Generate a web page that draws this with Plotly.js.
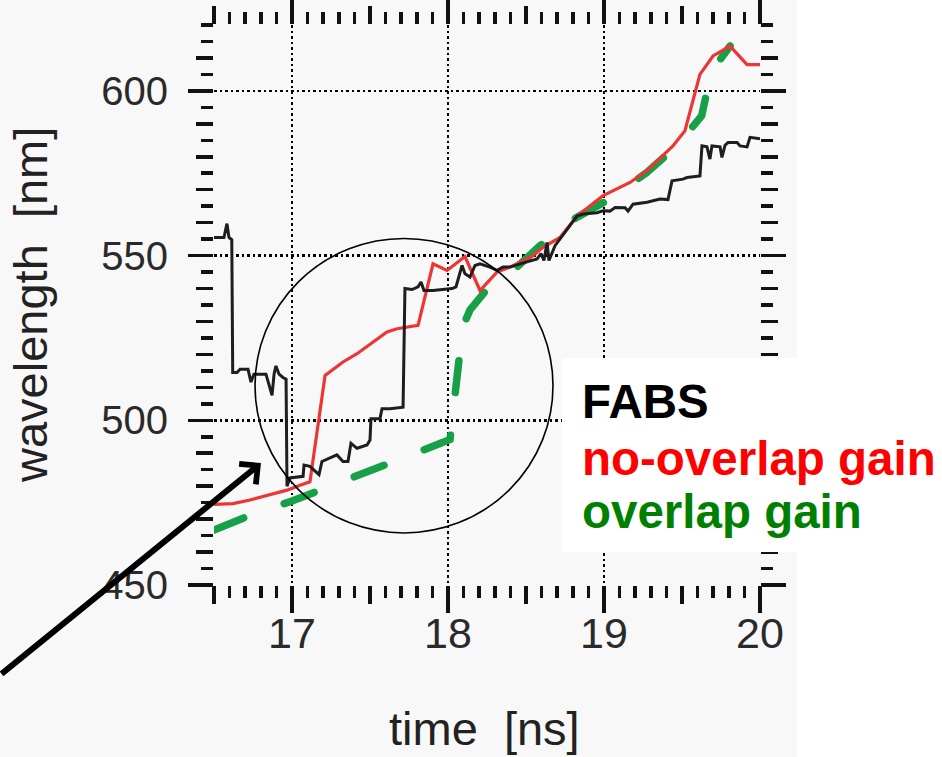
<!DOCTYPE html>
<html>
<head>
<meta charset="utf-8">
<script src="https://cdn.plot.ly/plotly-3.0.1.min.js"></script>
<style>html,body{margin:0;padding:0;background:#fff;}#chart{width:942px;height:757px;}</style>
</head>
<body>
<div id="chart"></div>
<script>
// ---- data (time in ns, wavelength in nm) ----
var fabsTime = [16.5,16.564,16.583,16.596,16.614,16.62,16.647,16.667,16.718,16.737,16.756,16.808,16.833,16.872,16.885,16.897,16.917,16.942,16.962,16.968,16.987,17.071,17.077,17.115,17.147,17.173,17.192,17.244,17.288,17.327,17.359,17.378,17.417,17.481,17.5,17.506,17.564,17.577,17.628,17.712,17.724,17.769,17.808,17.827,17.846,17.904,17.994,18.026,18.051,18.077,18.09,18.109,18.141,18.173,18.205,18.269,18.314,18.353,18.397,18.462,18.526,18.571,18.596,18.615,18.635,18.647,18.686,18.75,18.827,18.865,18.955,18.994,19.038,19.071,19.135,19.154,19.186,19.276,19.359,19.41,19.436,19.506,19.532,19.615,19.628,19.66,19.679,19.692,19.744,19.756,19.776,19.795,19.853,19.872,19.917,19.936,20.0];
var fabsWl   = [555.5,555.5,559.7,555.5,554.8,514.5,514.5,515.5,515.5,511.6,514,514,514,507.6,514,516.5,514,513,512.5,480,482.5,483,486.4,486,484.5,483.5,487.5,488.5,489.5,487.5,487.5,493,491.5,492.5,494,500.5,500.5,503.5,503.5,504,540,539.7,540.5,542,539.4,539.4,539.7,540,540.5,545,547,544.5,543.5,547,547.5,546.5,545.5,546.5,546.5,547.5,548.5,549,550.6,548.5,554,548.5,553,557,562,562.6,563,563.6,563.5,564.6,564.5,563.5,565.6,566.2,567.2,567,572.7,573.2,573.7,574.2,583.3,583,579.3,583.3,583,579.8,583.5,584.3,584.3,583.3,583,585.9,585.5];

var noOverlapTime = [16.5,16.622,16.731,16.859,16.968,17.051,17.115,17.212,17.327,17.417,17.545,17.609,17.673,17.808,17.904,17.994,18.109,18.205,18.314,18.397,18.545,18.609,18.718,18.827,18.994,19.167,19.276,19.442,19.519,19.571,19.615,19.699,19.808,19.917,20.0];
var noOverlapWl   = [474.5,474.7,475.8,477.3,478.8,480.3,481.3,513.6,517.7,520.2,524.7,526.8,527.8,528.8,547.5,545.5,549.7,539.4,545,546.5,550,552.5,555.5,562,568.2,572.2,575.8,583.3,587.9,597,605,610.6,613.6,608,608];

var overlapTime = [16.5,16.75,17.0,17.25,17.5,17.75,17.968,18.013,18.034,18.066,18.094,18.141,18.216,18.269,18.43,18.59,18.825,19.038,19.274,19.466,19.626,19.654,19.679,19.744,19.808];
var overlapWl   = [466.7,471.5,475.5,480.0,484.3,488.8,493.3,494.2,504,515.7,528.3,533.5,537.9,540.9,546,553,561.6,567.2,575.2,583.3,592.4,598,604,609.5,613.6];

var seriesNames = ['FABS','no-overlap gain','overlap gain'];
var xTicks = [17,18,19,20];
var xHalfTicks = [16.5,17.5,18.5,19.5];
var yTicks = [450,500,550,600];
var yTenTicks = [460,470,480,490,510,520,530,540,560,570,580,590,610];

// ---- pixel geometry helpers (layout only) ----
var W = 942, H = 757, L = 214, R = 182, T = 25, B = 172;
var pw = W - L - R, ph = H - T - B;
function px(x){ return (x - L) / pw; }
function py(y){ return (H - B - y) / ph; }

var tickCol = '#111';
var font = 'Liberation Sans, Arial, Helvetica, sans-serif';
var tw = 3.5;

var traces = [
  {x: overlapTime, y: overlapWl, name: seriesNames[2], mode: 'lines',
   line: {color: '#17a046', width: 7.5, dash: '32px,43px'}, hoverinfo: 'skip'},
  {x: noOverlapTime, y: noOverlapWl, name: seriesNames[1], mode: 'lines',
   line: {color: '#ee3535', width: 3.2}, hoverinfo: 'skip'},
  {x: fabsTime, y: fabsWl, name: seriesNames[0], mode: 'lines',
   line: {color: '#1e1e1e', width: 3}, hoverinfo: 'skip'},
  {x: [], y: [], xaxis: 'x2', yaxis: 'y2', showlegend: false, hoverinfo: 'skip'},
  {x: [], y: [], xaxis: 'x3', yaxis: 'y', showlegend: false, hoverinfo: 'skip'}
];

var layout = {
  width: W, height: H,
  margin: {l: L, r: R, t: T, b: B, pad: 0},
  paper_bgcolor: '#ffffff',
  plot_bgcolor: 'rgba(0,0,0,0)',
  showlegend: false,
  font: {family: font, color: '#2a2a2a'},
  xaxis: {
    range: [16.5, 20], tickmode: 'array', tickvals: xTicks, ticktext: xTicks.map(String),
    ticks: 'outside', ticklen: 10, tickwidth: tw, tickcolor: tickCol,
    minor: {tickmode: 'linear', tick0: 16.5, dtick: 0.1, ticks: 'outside', ticklen: 12, tickwidth: tw, tickcolor: tickCol, showgrid: false},
    mirror: 'ticks', showline: false, zeroline: false,
    showgrid: true, gridcolor: '#000', gridwidth: 2.5, griddash: '2.5px,3px',
    tickfont: {size: 43, color: '#2a2a2a', family: font}, fixedrange: true
  },
  xaxis2: {
    overlaying: 'x', anchor: 'y', side: 'bottom', range: [16.5, 20],
    tickmode: 'array', tickvals: xHalfTicks, ticks: 'outside', ticklen: 18, tickwidth: tw, tickcolor: tickCol,
    showticklabels: false, showgrid: false, zeroline: false, showline: false, mirror: 'ticks', fixedrange: true
  },
  xaxis3: {
    overlaying: 'x', anchor: 'y', side: 'bottom', range: [16.5, 20],
    tickmode: 'array', tickvals: xTicks, ticks: 'outside', ticklen: 27, tickwidth: tw, tickcolor: tickCol,
    showticklabels: false, showgrid: false, zeroline: false, showline: false, mirror: 'ticks', fixedrange: true
  },
  yaxis: {
    range: [450, 620], tickmode: 'array', tickvals: yTicks, ticktext: yTicks.map(String),
    ticks: 'outside', ticklen: 25, tickwidth: tw, tickcolor: tickCol,
    minor: {tickmode: 'linear', tick0: 450, dtick: 5, ticks: 'outside', ticklen: 12, tickwidth: tw, tickcolor: tickCol, showgrid: false},
    mirror: 'ticks', showline: false, zeroline: false,
    showgrid: true, gridcolor: '#000', gridwidth: 2.5, griddash: '2.5px,3px',
    tickfont: {size: 40, color: '#2a2a2a', family: font}, ticklabelstandoff: 12, fixedrange: true
  },
  yaxis2: {
    overlaying: 'y', anchor: 'x', side: 'left', range: [450, 620],
    tickmode: 'array', tickvals: yTenTicks, ticks: 'outside', ticklen: 17, tickwidth: tw, tickcolor: tickCol,
    showticklabels: false, showgrid: false, zeroline: false, showline: false, mirror: 'ticks', fixedrange: true
  },
  shapes: [
    {type: 'rect', xref: 'paper', yref: 'paper', x0: px(0), x1: px(797), y0: py(757), y1: py(0),
     fillcolor: '#f8f8f8', line: {width: 0}, layer: 'below'},
    {type: 'rect', xref: 'paper', yref: 'paper', x0: px(562), x1: px(942), y0: py(552), y1: py(358),
     fillcolor: '#ffffff', line: {width: 0}, layer: 'above'},
    {type: 'circle', xref: 'x', yref: 'y', x0: 16.763, x1: 18.673, y0: 465.8, y1: 555.2,
     line: {color: '#000', width: 1.6}, layer: 'above'}
  ],
  annotations: [
    {xref: 'paper', yref: 'paper', x: px(484), y: py(728), xanchor: 'center', yanchor: 'middle',
     text: 'time\u00a0\u00a0[ns]', showarrow: false, font: {size: 47, color: '#222', family: font}},
    {xref: 'paper', yref: 'paper', x: px(30), y: py(305), xanchor: 'center', yanchor: 'middle', textangle: -90,
     text: 'wavelength\u00a0\u00a0[nm]', showarrow: false, font: {size: 47, color: '#222', family: font}},
    {xref: 'paper', yref: 'paper', x: px(580), y: py(401), xanchor: 'left', yanchor: 'middle',
     text: seriesNames[0], showarrow: false, font: {size: 47.5, color: '#000000', family: font, weight: 'bold'}},
    {xref: 'paper', yref: 'paper', x: px(580), y: py(458), xanchor: 'left', yanchor: 'middle',
     text: seriesNames[1], showarrow: false, font: {size: 47.5, color: '#ff0000', family: font, weight: 'bold'}},
    {xref: 'paper', yref: 'paper', x: px(580), y: py(511), xanchor: 'left', yanchor: 'middle',
     text: seriesNames[2], showarrow: false, font: {size: 47.5, color: '#008000', family: font, weight: 'bold'}},
    {xref: 'x', yref: 'y', x: 16.801, y: 487.0, ax: -261, ay: 212, axref: 'pixel', ayref: 'pixel',
     text: '', showarrow: true, arrowhead: 4, arrowsize: 0.85, arrowwidth: 6, arrowcolor: '#000'}
  ]
};

Plotly.newPlot('chart', traces, layout, {staticPlot: true, displayModeBar: false}).then(function(){
  var lines = document.querySelectorAll('.scatterlayer .trace path.js-line');
  if (lines.length) { lines[0].style.strokeLinecap = 'round'; }
});
</script>
</body>
</html>
